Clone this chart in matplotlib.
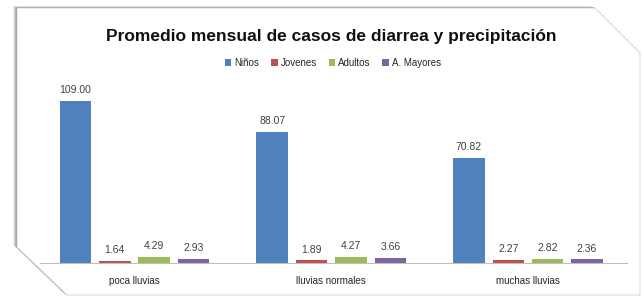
import numpy as np
import matplotlib
matplotlib.use("Agg")
import matplotlib.pyplot as plt
from matplotlib.patches import Polygon

# data
categories = ["poca lluvias", "lluvias normales", "muchas lluvias"]
series_names = ["Niños", "Jovenes", "Adultos", "A. Mayores"]
ninos = [109.00, 88.07, 70.82]
jovenes = [1.64, 1.89, 2.27]
adultos = [4.29, 4.27, 2.82]
mayores = [2.93, 3.66, 2.36]
colors = ["#4F81BD", "#C0504D", "#9BBB59", "#8064A2"]

W, H = 644, 296
plt.rcParams['font.family'] = ['Liberation Sans', 'DejaVu Sans']
fig = plt.figure(figsize=(W / 100, H / 100), dpi=100)
fig.patch.set_facecolor("white")


def px(x, y):
    """pixel coords (top-left origin) to figure fraction"""
    return (x / W, 1 - y / H)


# the bevelled card with a soft shadow
card = [(17, 8), (595, 8), (640, 53), (640, 295), (67, 295), (17, 247)]
for off, col in [(4.0, "#ececec"), (3.0, "#d6d6d6"), (2.0, "#b4b4b4"), (1.0, "#8c8c8c")]:
    shadow = Polygon([px(x - off, y - off * 0.5) for x, y in card], closed=True,
                     transform=fig.transFigure, facecolor=col, edgecolor="none", zorder=-3)
    fig.patches.append(shadow)
front = Polygon([px(x, y) for x, y in card], closed=True, transform=fig.transFigure,
                facecolor="white", edgecolor="#d0d0d0", linewidth=0.6, zorder=-2)
fig.patches.append(front)

ax = fig.add_axes([40 / W, 1 - 263 / H, 587 / W, 178 / H])
ax.set_facecolor("none")
ax.set_zorder(2)

data = [ninos, jovenes, adultos, mayores]
x = np.arange(len(categories))
slot = 0.2
width = 0.16
for j, (vals, name, c) in enumerate(zip(data, series_names, colors)):
    pos = x + (j - 1.5) * slot
    bars = ax.bar(pos, vals, width, color=c, label=name, zorder=2)
    for b, v in zip(bars, vals):
        ax.text(b.get_x() + b.get_width() / 2, v + 3.8, "%.2f" % v,
                ha="center", va="bottom", fontsize=7.5, color="#404040")

ax.set_xlim(-0.48, 2.503)
ax.set_ylim(0, 119.5)
ax.set_xticks(x)
ax.set_xticklabels(categories, fontsize=7, color="#262626")
ax.tick_params(axis="x", length=0, pad=9)
ax.set_yticks([])
for s in ["left", "right", "top"]:
    ax.spines[s].set_visible(False)
ax.spines["bottom"].set_color("#bfbfbf")
ax.spines["bottom"].set_linewidth(0.8)

fig.text(331 / W, 1 - 37 / H, "Promedio mensual de casos de diarrea y precipitación",
         ha="center", va="center", fontsize=12.5, fontweight="bold", color="#111111")

fig.legend(loc="center", bbox_to_anchor=(333 / W, 1 - 63 / H), ncol=4, frameon=False,
           fontsize=7, handlelength=0.7, handleheight=0.7, handletextpad=0.3,
           columnspacing=1.2, labelcolor="#262626")

fig.savefig("out.png", dpi=100)
